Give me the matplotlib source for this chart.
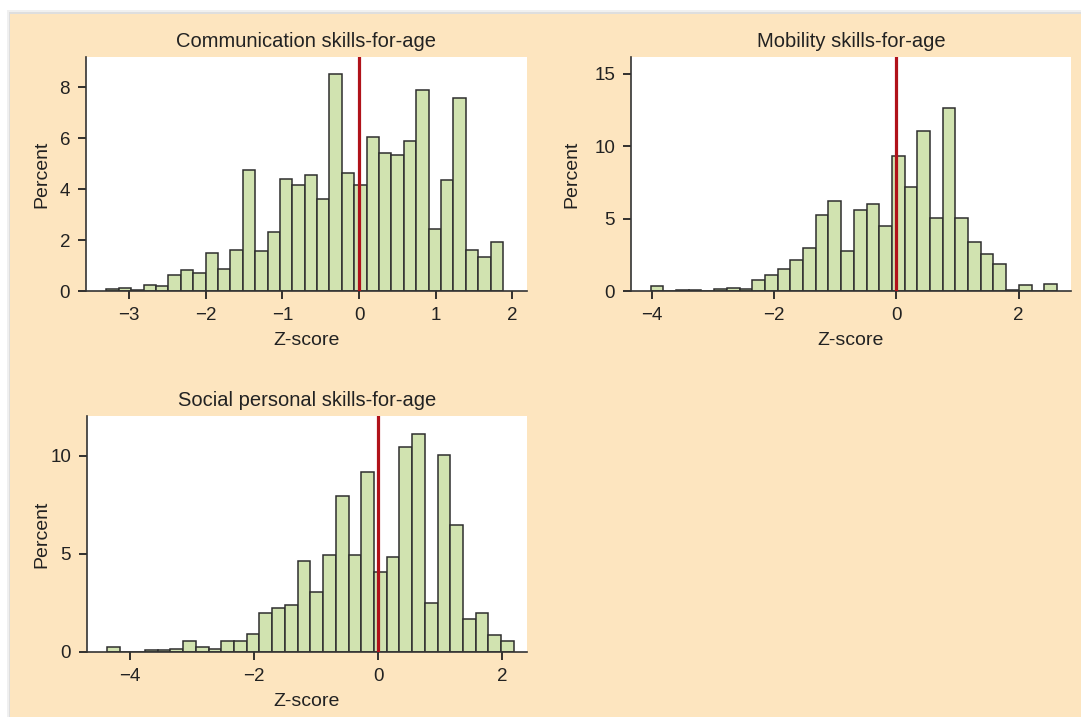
import numpy as np
import matplotlib
matplotlib.use('Agg')
import matplotlib.pyplot as plt
from matplotlib.patches import Rectangle

plt.rcParams['font.family'] = ['Liberation Sans', 'DejaVu Sans']
plt.rcParams['font.size'] = 13

# percent of children in each z-score bin (32 equal-width bins per panel)
comm_pct = [0.07, 0.10, 0.04, 0.25, 0.18, 0.64, 0.82, 0.69, 1.51, 0.87, 1.61, 4.74,
            1.55, 2.31, 4.40, 4.14, 4.56, 3.62, 8.51, 4.61, 4.14, 6.06, 5.42, 5.35,
            5.89, 7.89, 2.43, 4.36, 7.58, 1.61, 1.34, 1.91]
mob_pct = [0.37, 0, 0.10, 0.10, 0, 0.12, 0.23, 0.12, 0.74, 1.10, 1.52, 2.12,
           2.99, 5.27, 6.19, 2.74, 5.61, 5.98, 4.46, 9.32, 7.18, 11.09, 5.01, 12.65,
           5.01, 3.36, 2.58, 1.86, 0.09, 0.44, 0, 0.51]
soc_pct = [0.27, 0, 0, 0.10, 0.10, 0.17, 0.58, 0.26, 0.15, 0.58, 0.58, 0.94,
           1.97, 2.23, 2.41, 4.64, 3.04, 4.95, 7.96, 4.95, 9.18, 4.06, 4.85, 10.44,
           11.12, 2.50, 10.03, 6.46, 1.68, 1.97, 0.87, 0.58]

# (title, percents, first bin edge, bin width, xlim, ylim, yticks)
panels = [
    ('Communication skills-for-age', comm_pct, -3.294, 0.1616, (-3.56, 2.19), (0, 9.18), [0, 2, 4, 6, 8]),
    ('Mobility skills-for-age', mob_pct, -4.014, 0.2075, (-4.335, 2.855), (0, 16.17), [0, 5, 10, 15]),
    ('Social personal skills-for-age', soc_pct, -4.371, 0.205, (-4.69, 2.40), (0, 12.02), [0, 5, 10]),
]
xticks = [[-3, -2, -1, 0, 1, 2], [-4, -2, 0, 2], [-4, -2, 0, 2]]
ylabel_x = [-0.081, -0.116, -0.084]

W, H = 1081, 717
fig = plt.figure(figsize=(W / 100, H / 100), dpi=100, facecolor='white')

# beige background box with a soft shadow
fig.patches.append(Rectangle((7 / W, 0), 1, 1 - 10 / H, transform=fig.transFigure,
                             facecolor='#f0f0f0', edgecolor='none', zorder=-4))
fig.patches.append(Rectangle((9 / W, 0), 1, 1 - 12 / H, transform=fig.transFigure,
                             facecolor='#dedede', edgecolor='none', zorder=-3))
fig.patches.append(Rectangle((10 / W, 0), 1, 1 - 14 / H, transform=fig.transFigure,
                             facecolor='#fde5bf', edgecolor='none', zorder=-2))

boxes = [(86, 527, 57, 291), (631, 1071, 57, 291), (87, 527, 416, 652)]

for (title, pct, start, width, xl, yl, yt), xt, lx, (l, r, t, b) in zip(panels, xticks, ylabel_x, boxes):
    ax = fig.add_axes([l / W, (H - b) / H, (r - l) / W, (b - t) / H])
    edges = start + width * np.arange(len(pct))
    ax.bar(edges, pct, width=width, align='edge', color='#d1e3b0',
           edgecolor='#2e2e2e', linewidth=1.1, zorder=2)
    ax.axvline(0, color='#b0121a', linewidth=2.3, zorder=3)
    ax.set_xlim(*xl)
    ax.set_ylim(*yl)
    ax.set_xticks(xt)
    ax.set_yticks(yt)
    ax.set_title(title, fontsize=14.5, pad=7, color='#222222')
    ax.set_xlabel('Z-score', fontsize=14, color='#222222', labelpad=6)
    ax.set_ylabel('Percent', fontsize=14, color='#222222')
    ax.yaxis.set_label_coords(lx, 0.5)
    for s in ['top', 'right']:
        ax.spines[s].set_visible(False)
    for s in ['left', 'bottom']:
        ax.spines[s].set_color('#333333')
        ax.spines[s].set_linewidth(1.2)
    ax.tick_params(direction='out', length=5.5, width=1.3, pad=6,
                   colors='#222222', labelsize=13.5)

fig.savefig('out.png', dpi=100)
